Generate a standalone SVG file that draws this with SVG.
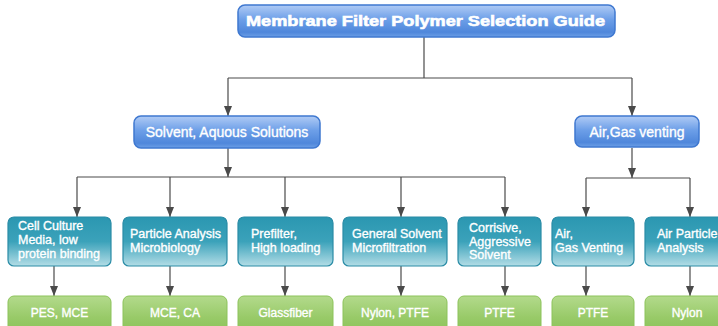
<svg xmlns="http://www.w3.org/2000/svg" width="718" height="326" viewBox="0 0 718 326">
<defs>
<linearGradient id="gBlue" x1="0" y1="0" x2="0" y2="1">
<stop offset="0" stop-color="#b0cbf5"/>
<stop offset="0.45" stop-color="#6d9fe8"/>
<stop offset="0.85" stop-color="#4f87db"/>
<stop offset="1" stop-color="#6c9fe6"/>
</linearGradient>
<linearGradient id="gTeal" x1="0" y1="0" x2="0" y2="1">
<stop offset="0" stop-color="#2b97b1"/>
<stop offset="0.5" stop-color="#3ba2ba"/>
<stop offset="1" stop-color="#b3dde6"/>
</linearGradient>
<linearGradient id="gGreen" x1="0" y1="0" x2="0" y2="1">
<stop offset="0" stop-color="#b3da8c"/>
<stop offset="0.6" stop-color="#98ca68"/>
<stop offset="1" stop-color="#8cc35a"/>
</linearGradient>
<marker id="arr" markerUnits="userSpaceOnUse" markerWidth="10" markerHeight="10" viewBox="0 0 10 10" refX="10" refY="5" orient="auto">
<path d="M0,1 L10,5 L0,9 Z" fill="#4a4a4a"/>
</marker>
<style>
.blue{fill:url(#gBlue);stroke:#3f78d0;stroke-width:1.5}
.teal{fill:url(#gTeal);stroke:#2a8ca6;stroke-width:1.2}
.green{fill:url(#gGreen);stroke:#8cc35a;stroke-width:1}
.ln{stroke:#4a4a4a;stroke-width:1.2;fill:none}
.ar{stroke:#4a4a4a;stroke-width:1.2;fill:none;marker-end:url(#arr)}
text{font-family:"Liberation Sans",Arial,sans-serif;fill:#ffffff;stroke:#ffffff;stroke-width:0.35}
.t1{font-size:15px;font-weight:bold;stroke-width:0.6}
.t2{font-size:14px}
.t3{font-size:12.5px}
.t4{font-size:12px;text-anchor:middle}
</style>
</defs>
<rect width="718" height="326" fill="#ffffff"/>
<g id="connectors">
<line class="ln" x1="424" y1="37" x2="424" y2="78"/>
<line class="ln" x1="228" y1="78" x2="632" y2="78"/>
<line class="ar" x1="228" y1="78" x2="228" y2="116"/>
<line class="ar" x1="632" y1="78" x2="632" y2="116"/>
<line class="ar" x1="228" y1="148" x2="228" y2="177"/>
<line class="ln" x1="77" y1="177" x2="505" y2="177"/>
<line class="ar" x1="77" y1="177" x2="77" y2="217"/>
<line class="ar" x1="170" y1="177" x2="170" y2="217"/>
<line class="ar" x1="285" y1="177" x2="285" y2="217"/>
<line class="ar" x1="401" y1="177" x2="401" y2="217"/>
<line class="ar" x1="505" y1="177" x2="505" y2="217"/>
<line class="ar" x1="632" y1="148" x2="632" y2="178"/>
<line class="ln" x1="586" y1="178" x2="690" y2="178"/>
<line class="ar" x1="586" y1="178" x2="586" y2="217"/>
<line class="ar" x1="690" y1="178" x2="690" y2="217"/>
<line class="ar" x1="54" y1="266" x2="54" y2="296"/>
<line class="ar" x1="170" y1="266" x2="170" y2="296"/>
<line class="ar" x1="285" y1="266" x2="285" y2="296"/>
<line class="ar" x1="401" y1="266" x2="401" y2="296"/>
<line class="ar" x1="505" y1="266" x2="505" y2="296"/>
<line class="ar" x1="586" y1="266" x2="586" y2="296"/>
<line class="ar" x1="690" y1="266" x2="690" y2="296"/>
</g>
<g id="title">
<rect class="blue" x="238" y="5" width="377" height="32" rx="7"/>
<text class="t1" x="246" y="26" textLength="359" lengthAdjust="spacingAndGlyphs">Membrane Filter Polymer Selection Guide</text>
</g>
<g id="solvent">
<rect class="blue" x="134" y="116" width="186" height="32" rx="7"/>
<text class="t2" x="227" y="137" text-anchor="middle">Solvent, Aquous Solutions</text>
</g>
<g id="air">
<rect class="blue" x="575" y="116" width="124" height="31" rx="7"/>
<text class="t2" x="637" y="137" text-anchor="middle">Air,Gas venting</text>
</g>
<g id="cell-culture">
<rect class="teal" x="8" y="217" width="103" height="49" rx="6"/>
<text class="t3" x="18" y="230">Cell Culture</text>
<text class="t3" x="18" y="244">Media, low</text>
<text class="t3" x="18" y="258">protein binding</text>
</g>
<g id="particle-analysis">
<rect class="teal" x="123" y="217" width="104" height="49" rx="6"/>
<text class="t3" x="130" y="238">Particle Analysis</text>
<text class="t3" x="130" y="252">Microbiology</text>
</g>
<g id="prefilter">
<rect class="teal" x="238" y="217" width="95" height="49" rx="6"/>
<text class="t3" x="251" y="238">Prefilter,</text>
<text class="t3" x="251" y="252">High loading</text>
</g>
<g id="general-solvent">
<rect class="teal" x="343" y="217" width="104" height="49" rx="6"/>
<text class="t3" x="352" y="238">General Solvent</text>
<text class="t3" x="352" y="252">Microfiltration</text>
</g>
<g id="corrisive">
<rect class="teal" x="458" y="217" width="83" height="49" rx="6"/>
<text class="t3" x="469" y="232">Corrisive,</text>
<text class="t3" x="469" y="246">Aggressive</text>
<text class="t3" x="469" y="259">Solvent</text>
</g>
<g id="air-gas-venting">
<rect class="teal" x="552" y="217" width="82" height="49" rx="6"/>
<text class="t3" x="555" y="238">Air,</text>
<text class="t3" x="555" y="252">Gas Venting</text>
</g>
<g id="air-particle">
<rect class="teal" x="645" y="217" width="84" height="49" rx="6"/>
<text class="t3" x="657" y="238">Air Particle</text>
<text class="t3" x="657" y="252">Analysis</text>
</g>
<g id="pes-mce">
<rect class="green" x="8" y="296" width="103" height="36" rx="6"/>
<text class="t4" x="59.5" y="317">PES, MCE</text>
</g>
<g id="mce-ca">
<rect class="green" x="123" y="296" width="104" height="36" rx="6"/>
<text class="t4" x="175" y="317">MCE, CA</text>
</g>
<g id="glassfiber">
<rect class="green" x="238" y="296" width="95" height="36" rx="6"/>
<text class="t4" x="285.5" y="317">Glassfiber</text>
</g>
<g id="nylon-ptfe">
<rect class="green" x="343" y="296" width="104" height="36" rx="6"/>
<text class="t4" x="395" y="317">Nylon, PTFE</text>
</g>
<g id="ptfe-1">
<rect class="green" x="458" y="296" width="83" height="36" rx="6"/>
<text class="t4" x="499.5" y="317">PTFE</text>
</g>
<g id="ptfe-2">
<rect class="green" x="552" y="296" width="82" height="36" rx="6"/>
<text class="t4" x="593" y="317">PTFE</text>
</g>
<g id="nylon">
<rect class="green" x="645" y="296" width="84" height="36" rx="6"/>
<text class="t4" x="687" y="317">Nylon</text>
</g>
</svg>
